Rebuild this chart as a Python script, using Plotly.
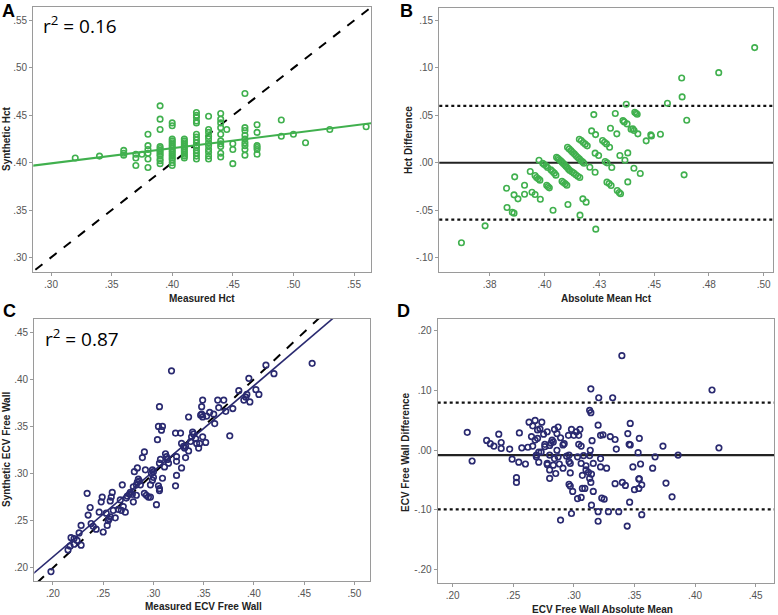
import plotly.graph_objects as go

W, H = 778, 615
GREEN = "rgb(64,176,78)"
NAVY = "rgb(42,42,112)"

# ---------------- Panel A: Measured vs Synthetic Hct ----------------
a_measured = [0.32, 0.34,
              0.36, 0.36, 0.36,
              0.37, 0.37, 0.37, 0.375,
              0.38, 0.38, 0.38, 0.38, 0.38, 0.38,
              0.39, 0.39, 0.39, 0.39, 0.39, 0.39, 0.39, 0.39, 0.39, 0.39, 0.39, 0.39,
              0.40, 0.40, 0.40, 0.40, 0.40, 0.40, 0.40, 0.40, 0.40, 0.40, 0.40, 0.40, 0.40, 0.40, 0.40, 0.40,
              0.41, 0.41, 0.41, 0.41, 0.41, 0.41, 0.41, 0.41, 0.41, 0.41, 0.41,
              0.42, 0.42, 0.42, 0.42, 0.42, 0.42, 0.42, 0.42, 0.42, 0.42, 0.42, 0.42, 0.42, 0.42, 0.42,
              0.43, 0.43, 0.43, 0.43, 0.43, 0.43, 0.43, 0.43, 0.43, 0.43, 0.43,
              0.44, 0.44, 0.44, 0.44, 0.44, 0.44, 0.44, 0.44, 0.44, 0.44, 0.445,
              0.45, 0.45, 0.45,
              0.46, 0.46, 0.46, 0.46, 0.46, 0.46, 0.46, 0.46, 0.46,
              0.47, 0.47, 0.47, 0.47, 0.47, 0.47,
              0.49, 0.49, 0.50, 0.51, 0.53, 0.56]
a_synthetic = [0.405, 0.407,
               0.413, 0.410, 0.408,
               0.409, 0.405, 0.397, 0.409,
               0.430, 0.418, 0.414, 0.410, 0.404, 0.395,
               0.460, 0.446, 0.435, 0.417, 0.415, 0.413, 0.411, 0.409, 0.407, 0.404, 0.402, 0.399,
               0.442, 0.439, 0.425, 0.423, 0.421, 0.419, 0.417, 0.415, 0.413, 0.411, 0.409, 0.407, 0.405, 0.403, 0.400, 0.397,
               0.425, 0.423, 0.421, 0.419, 0.417, 0.415, 0.413, 0.411, 0.409, 0.407, 0.405,
               0.453, 0.450, 0.448, 0.444, 0.442, 0.430, 0.427, 0.424, 0.421, 0.418, 0.416, 0.413, 0.410, 0.407, 0.404,
               0.449, 0.435, 0.432, 0.428, 0.425, 0.421, 0.418, 0.414, 0.411, 0.407, 0.404,
               0.452, 0.446, 0.442, 0.437, 0.430, 0.423, 0.420, 0.417, 0.410, 0.406, 0.435,
               0.420, 0.414, 0.399,
               0.473, 0.437, 0.434, 0.429, 0.425, 0.421, 0.418, 0.414, 0.408,
               0.440, 0.432, 0.418, 0.416, 0.414, 0.409,
               0.445, 0.428, 0.430, 0.421, 0.435, 0.438]
a_fit_slope, a_fit_intercept = 0.160, 0.3513
a_r2_label = "r<sup>2</sup> = 0.16"

# ---------------- Panel B: Bland-Altman Hct ----------------
b_mean = [0.3621, 0.3729, 0.3827, 0.3829, 0.3853, 0.3861, 0.3864, 0.3861, 0.3879, 0.3909,
          0.3909, 0.3935, 0.3943, 0.3957, 0.3957, 0.3964, 0.3972, 0.3979, 0.3981, 0.3975,
          0.3992, 0.3999, 0.4007, 0.4014, 0.4010, 0.4016, 0.4022, 0.4029, 0.4037, 0.4045,
          0.4052, 0.4039, 0.4055, 0.4061, 0.4067, 0.4074, 0.4080, 0.4086, 0.4092, 0.4098,
          0.4104, 0.4110, 0.4116, 0.4080, 0.4087, 0.4095, 0.4102, 0.4105, 0.4107, 0.4113,
          0.4121, 0.4128, 0.4136, 0.4143, 0.4151, 0.4159, 0.4166, 0.4125, 0.4134, 0.4143,
          0.4152, 0.4161, 0.4159, 0.4168, 0.4177, 0.4186, 0.4195, 0.4174, 0.4180, 0.4162,
          0.4175, 0.4190, 0.4207, 0.4215, 0.4225, 0.4233, 0.4231, 0.4231, 0.4234, 0.4247,
          0.4265, 0.4274, 0.4283, 0.4297, 0.4277, 0.4285, 0.4285, 0.4295, 0.4304, 0.4307,
          0.4301, 0.4323, 0.4330, 0.4332, 0.4341, 0.4347, 0.4344, 0.4358, 0.4364, 0.4373,
          0.4377, 0.4367, 0.4380, 0.4380, 0.4395, 0.4403, 0.4409, 0.4408, 0.4412, 0.4418,
          0.4423, 0.4426, 0.4437, 0.4464, 0.4485, 0.4488, 0.4529, 0.4561, 0.4626, 0.4628,
          0.4637, 0.4649, 0.4795, 0.4959]
b_diff = [-0.0845, -0.0666, -0.0269, -0.0473, -0.0522, -0.0532, -0.0149, -0.0339, -0.0381, -0.0237,
          -0.0332, -0.0093, -0.0311, -0.0335, -0.0135, -0.0156, -0.0170, -0.0184, -0.0385, 0.0027,
          -0.0005, -0.0019, -0.0033, -0.0051, -0.0237, -0.0251, -0.0265, -0.0075, -0.0093, -0.0110,
          -0.0131, -0.0501, 0.0058, 0.0048, 0.0034, 0.0020, 0.0006, -0.0008, -0.0022, -0.0037,
          -0.0051, -0.0068, -0.0082, -0.0195, -0.0209, -0.0223, -0.0237, 0.0164, -0.0441, 0.0146,
          0.0129, 0.0111, 0.0094, 0.0076, 0.0058, 0.0041, 0.0023, -0.0096, -0.0110, -0.0128,
          -0.0142, -0.0156, 0.0248, 0.0234, 0.0213, 0.0196, 0.0178, 0.0009, -0.0005, -0.0553,
          -0.0381, -0.0416, -0.0047, 0.0336, 0.0508, 0.0297, 0.0101, -0.0100, -0.0701, 0.0076,
          0.0234, 0.0217, 0.0199, 0.0164, 0.0013, -0.0001, -0.0205, -0.0219, -0.0241, -0.0051,
          0.0364, 0.0519, 0.0305, -0.0293, -0.0314, -0.0328, 0.0076, 0.0445, 0.0431, 0.0617,
          0.0410, 0.0027, 0.0104, -0.0202, 0.0354, 0.0357, 0.0340, -0.0058, 0.0533, 0.0522,
          0.0512, 0.0305, -0.0114, 0.0231, 0.0294, 0.0283, 0.0301, 0.0628, 0.0895, 0.0695,
          -0.0128, 0.0449, 0.0951, 0.1215]
b_bias, b_upper, b_lower = 0.000, 0.060, -0.060

# ---------------- Panel C: Measured vs Synthetic ECV ----------------
c_measured = [0.198, 0.215, 0.217, 0.218, 0.221, 0.221, 0.224, 0.226, 0.228, 0.228,
              0.234, 0.235, 0.237, 0.238, 0.240, 0.243, 0.246, 0.248, 0.249, 0.250,
              0.253, 0.254, 0.255, 0.256, 0.257, 0.257, 0.258, 0.259, 0.260, 0.262,
              0.265, 0.267, 0.268, 0.269, 0.270, 0.272, 0.273, 0.274, 0.276, 0.277,
              0.280, 0.279, 0.280, 0.281, 0.283, 0.284, 0.285, 0.283, 0.284, 0.286,
              0.287, 0.289, 0.291, 0.291, 0.292, 0.293, 0.295, 0.297, 0.297, 0.298,
              0.299, 0.300, 0.299, 0.300, 0.304, 0.303, 0.305, 0.306, 0.306, 0.305,
              0.306, 0.306, 0.307, 0.308, 0.309, 0.309, 0.311, 0.312, 0.313, 0.315,
              0.314, 0.318, 0.322, 0.323, 0.323, 0.322, 0.323, 0.327, 0.328, 0.330,
              0.331, 0.332, 0.328, 0.332, 0.335, 0.335, 0.337, 0.338, 0.339, 0.340,
              0.342, 0.343, 0.345, 0.346, 0.347, 0.348, 0.349, 0.348, 0.349, 0.349,
              0.352, 0.353, 0.356, 0.360, 0.361, 0.364, 0.365, 0.370, 0.372, 0.376,
              0.379, 0.385, 0.390, 0.392, 0.393, 0.395, 0.396, 0.402, 0.405, 0.412,
              0.420, 0.458]
c_synthetic = [0.196, 0.219, 0.223, 0.232, 0.231, 0.225, 0.229, 0.237, 0.224, 0.245,
               0.279, 0.256, 0.264, 0.247, 0.244, 0.241, 0.259, 0.270, 0.275, 0.238,
               0.258, 0.245, 0.250, 0.252, 0.254, 0.271, 0.275, 0.280, 0.261, 0.253,
               0.262, 0.272, 0.261, 0.288, 0.265, 0.259, 0.274, 0.276, 0.278, 0.280,
               0.286, 0.278, 0.270, 0.302, 0.288, 0.291, 0.294, 0.277, 0.306, 0.292,
               0.288, 0.317, 0.323, 0.279, 0.304, 0.277, 0.275, 0.275, 0.288, 0.300,
               0.304, 0.302, 0.293, 0.296, 0.336, 0.267, 0.287, 0.284, 0.282, 0.350,
               0.371, 0.311, 0.315, 0.346, 0.350, 0.295, 0.307, 0.321, 0.318, 0.311,
               0.315, 0.409, 0.343, 0.318, 0.298, 0.287, 0.313, 0.343, 0.332, 0.329,
               0.327, 0.329, 0.306, 0.317, 0.360, 0.324, 0.334, 0.339, 0.344, 0.342,
               0.337, 0.332, 0.327, 0.332, 0.362, 0.363, 0.360, 0.371, 0.378, 0.339,
               0.333, 0.361, 0.365, 0.363, 0.353, 0.378, 0.370, 0.378, 0.366, 0.340,
               0.369, 0.388, 0.378, 0.381, 0.384, 0.401, 0.376, 0.389, 0.384, 0.415,
               0.406, 0.417]
c_fit_slope, c_fit_intercept = 0.908, 0.030
c_r2_label = "r<sup>2</sup> = 0.87"

# ---------------- Panel D: Bland-Altman ECV ----------------
d_mean = [0.212, 0.216, 0.228, 0.231, 0.234, 0.238, 0.240, 0.240, 0.247, 0.249,
          0.2526, 0.2526, 0.255, 0.2545, 0.257, 0.260, 0.263, 0.262, 0.265, 0.266,
          0.266, 0.268, 0.268, 0.269, 0.269, 0.270, 0.270, 0.272, 0.271, 0.271,
          0.2735, 0.273, 0.275, 0.276, 0.276, 0.278, 0.278, 0.278, 0.280, 0.280,
          0.280, 0.280, 0.281, 0.282, 0.283, 0.283, 0.284, 0.284, 0.286, 0.287,
          0.285, 0.286, 0.287, 0.288, 0.289, 0.289, 0.291, 0.291, 0.292, 0.294,
          0.2955, 0.296, 0.296, 0.297, 0.296, 0.297, 0.298, 0.297, 0.298, 0.299,
          0.300, 0.302, 0.303, 0.303, 0.304, 0.304, 0.306, 0.305, 0.306, 0.306,
          0.307, 0.307, 0.308, 0.309, 0.310, 0.310, 0.312, 0.313, 0.314, 0.313,
          0.314, 0.313, 0.3135, 0.314, 0.3145, 0.3145, 0.315, 0.316, 0.316, 0.320,
          0.3205, 0.320, 0.320, 0.322, 0.324, 0.322, 0.322, 0.323, 0.325, 0.327,
          0.3285, 0.330, 0.332, 0.334, 0.335, 0.334, 0.337, 0.3396, 0.340, 0.3425,
          0.344, 0.3445, 0.3456, 0.3465, 0.3465, 0.346, 0.3487, 0.350, 0.353, 0.354,
          0.3536, 0.3536, 0.354, 0.355, 0.356, 0.356, 0.365, 0.367, 0.3735, 0.376,
          0.381, 0.386, 0.414, 0.4197]
d_diff = [0.030, -0.018, 0.0165, 0.011, 0.007, 0.027, 0.013, 0.003, 0.002, -0.015,
          -0.046, -0.054, 0.029, -0.020, 0.004, -0.023, 0.047, 0.005, 0.023, 0.007,
          0.041, 0.050, 0.017, -0.008, -0.011, 0.034, 0.020, 0.036, -0.003, -0.020,
          0.047, -0.003, 0.027, 0.010, 0.006, -0.022, -0.024, 0.031, -0.008, 0.008,
          -0.033, -0.047, 0.012, 0.017, 0.014, -0.025, -0.014, 0.035, 0.028, 0.039,
          -0.039, 0.000, -0.011, -0.023, -0.117, 0.021, 0.009, -0.030, 0.011, -0.010,
          0.025, -0.008, -0.019, -0.022, -0.057, -0.060, 0.035, -0.038, -0.106, -0.069,
          0.025, 0.031, -0.011, -0.081, 0.025, 0.010, 0.007, 0.035, -0.022, -0.079,
          -0.042, -0.064, -0.009, -0.064, -0.026, -0.033, -0.037, -0.047, -0.054, 0.067,
          0.063, -0.009, 0.000, 0.103, -0.040, -0.092, 0.016, -0.069, -0.022, 0.042,
          0.088, -0.103, -0.119, 0.025, 0.026, -0.014, -0.028, -0.080, -0.082, -0.030,
          -0.103, 0.023, 0.088, 0.018, 0.002, -0.056, -0.103, 0.1586, -0.054, -0.059,
          -0.127, 0.028, 0.010, 0.009, 0.045, -0.087, -0.028, -0.066, -0.004, 0.020,
          -0.064, -0.048, -0.048, -0.023, -0.058, -0.108, -0.030, -0.011, 0.007, -0.055,
          -0.078, -0.008, 0.101, 0.004]
d_bias, d_upper, d_lower = -0.008, 0.080, -0.099

# ---------------- Axis ticks ----------------
a_ticks = [0.30, 0.35, 0.40, 0.45, 0.50, 0.55]
a_ticktext = [".30", ".35", ".40", ".45", ".50", ".55"]
b_xticks = [0.375, 0.400, 0.425, 0.450, 0.475, 0.500]
b_xticktext = [".38", ".40", ".43", ".45", ".48", ".50"]
b_yticks = [-0.10, -0.05, 0.00, 0.05, 0.10, 0.15]
b_yticktext = ["-.10", "-.05", ".00", ".05", ".10", ".15"]
c_xticks = [0.20, 0.25, 0.30, 0.35, 0.40, 0.45, 0.50]
c_xticktext = [".20", ".25", ".30", ".35", ".40", ".45", ".50"]
c_yticks = [0.20, 0.25, 0.30, 0.35, 0.40, 0.45]
c_yticktext = [".20", ".25", ".30", ".35", ".40", ".45"]
d_xticks = [0.20, 0.25, 0.30, 0.35, 0.40, 0.45]
d_xticktext = [".20", ".25", ".30", ".35", ".40", ".45"]
d_yticks = [-0.20, -0.10, 0.00, 0.10, 0.20]
d_yticktext = ["-.20", "-.10", ".00", ".10", ".20"]

# axis ranges
a_xrange, a_yrange = [0.2854, 0.564], [0.285, 0.564]
b_xrange, b_yrange = [0.352, 0.5044], [-0.115, 0.163]
c_xrange, c_yrange = [0.1814, 0.5156], [0.186, 0.464]
d_xrange, d_yrange = [0.1876, 0.4654], [-0.223, 0.220]


def px(x):
    return x / W


def py(y):
    return 1 - y / H


fig = go.Figure()

marker_green = dict(symbol="circle-open", size=5.5, color=GREEN, line=dict(width=1.6, color=GREEN))
marker_navy = dict(symbol="circle-open", size=5.5, color=NAVY, line=dict(width=1.7, color=NAVY))

# Panel A
ax0, ax1 = a_xrange[0] - 0.01, a_xrange[1] + 0.01
fig.add_trace(go.Scatter(x=[ax0, ax1], y=[ax0, ax1],
                         mode="lines", line=dict(color="black", width=2, dash="dash"),
                         xaxis="x", yaxis="y", hoverinfo="skip"))
fig.add_trace(go.Scatter(x=a_measured, y=a_synthetic, mode="markers", marker=marker_green,
                         xaxis="x", yaxis="y"))
fig.add_trace(go.Scatter(x=[ax0, ax1], y=[a_fit_intercept + a_fit_slope * ax0, a_fit_intercept + a_fit_slope * ax1],
                         mode="lines", line=dict(color=GREEN, width=2), xaxis="x", yaxis="y", hoverinfo="skip"))

# Panel B
fig.add_trace(go.Scatter(x=b_mean, y=b_diff, mode="markers", marker=marker_green, xaxis="x2", yaxis="y2"))

# Panel C
cx0, cx1 = c_xrange[0] - 0.01, c_xrange[1] + 0.01
fig.add_trace(go.Scatter(x=[cx0, cx1], y=[cx0, cx1], mode="lines",
                         line=dict(color="black", width=2, dash="dash"), xaxis="x3", yaxis="y3", hoverinfo="skip"))
fig.add_trace(go.Scatter(x=[cx0, cx1], y=[c_fit_intercept + c_fit_slope * cx0, c_fit_intercept + c_fit_slope * cx1],
                         mode="lines", line=dict(color=NAVY, width=1.6), xaxis="x3", yaxis="y3", hoverinfo="skip"))
fig.add_trace(go.Scatter(x=c_measured, y=c_synthetic, mode="markers", marker=marker_navy, xaxis="x3", yaxis="y3"))

# Panel D
fig.add_trace(go.Scatter(x=d_mean, y=d_diff, mode="markers", marker=marker_navy, xaxis="x4", yaxis="y4"))

# Horizontal reference lines (bias and limits)
for xa, ya, bias, up, lo in [("x2", "y2", b_bias, b_upper, b_lower), ("x4", "y4", d_bias, d_upper, d_lower)]:
    fig.add_shape(type="line", xref=f"{xa} domain", yref=ya, x0=0, x1=1, y0=bias, y1=bias,
                  line=dict(color="#222222", width=2.2), layer="below")
    for v in (up, lo):
        fig.add_shape(type="line", xref=f"{xa} domain", yref=ya, x0=0, x1=1, y0=v, y1=v,
                      line=dict(color="#111111", width=2.2, dash="3px,3px"), layer="below")

tickfont = dict(family="Liberation Sans, Arial, sans-serif", size=10, color="#555555")


def axis(domain, rng, tv, tt, anchor):
    return dict(domain=domain, range=rng, tickvals=tv, ticktext=tt, anchor=anchor,
                showline=True, mirror=True, linecolor="#9a9a9a", linewidth=1.2,
                showgrid=False, zeroline=False, ticks="outside", ticklen=3, tickcolor="#9a9a9a",
                tickfont=tickfont, fixedrange=True)


fig.update_layout(
    width=W, height=H, margin=dict(l=0, r=0, t=0, b=0),
    paper_bgcolor="white", plot_bgcolor="white", showlegend=False,
    xaxis=axis([px(33.3), px(371)], a_xrange, a_ticks, a_ticktext, "y"),
    yaxis=axis([py(271.7), py(7.3)], a_yrange, a_ticks, a_ticktext, "x"),
    xaxis2=axis([px(439.3), px(773.3)], b_xrange, b_xticks, b_xticktext, "y2"),
    yaxis2=axis([py(271.7), py(8.3)], b_yrange, b_yticks, b_yticktext, "x2"),
    xaxis3=axis([px(34.3), px(370)], c_xrange, c_xticks, c_xticktext, "y3"),
    yaxis3=axis([py(581), py(319)], c_yrange, c_yticks, c_yticktext, "x3"),
    xaxis4=axis([px(437.7), px(774.3)], d_xrange, d_xticks, d_xticktext, "y4"),
    yaxis4=axis([py(583.3), py(319)], d_yrange, d_yticks, d_yticktext, "x4"),
)

letter_font = dict(family="Liberation Sans, Arial, sans-serif", size=18, color="black")
title_font = dict(family="Liberation Sans, Arial, sans-serif", size=10, color="#222222")
r2_font = dict(family="Open Sans, Liberation Sans, sans-serif", size=19, color="black")

# (text, x px, y px, font, angle, xanchor, yanchor)
annotations = [
    ("<b>A</b>", 1, 0, letter_font, 0, "left", "top"),
    ("<b>B</b>", 399, 0, letter_font, 0, "left", "top"),
    ("<b>C</b>", 2, 311, letter_font, 0, "left", "middle"),
    ("<b>D</b>", 396, 311, letter_font, 0, "left", "middle"),
    (a_r2_label, 42, 25, r2_font, 0, "left", "middle"),
    (c_r2_label, 44, 338, r2_font, 0, "left", "middle"),
    ("<b>Synthetic Hct</b>", 6, 139, title_font, -90, "center", "middle"),
    ("<b>Measured Hct</b>", 202, 298, title_font, 0, "center", "middle"),
    ("<b>Hct Difference</b>", 408, 140, title_font, -90, "center", "middle"),
    ("<b>Absolute Mean Hct</b>", 606, 298, title_font, 0, "center", "middle"),
    ("<b>Synthetic ECV Free Wall</b>", 6, 450, title_font, -90, "center", "middle"),
    ("<b>Measured ECV Free Wall</b>", 203, 606, title_font, 0, "center", "middle"),
    ("<b>ECV Free Wall Difference</b>", 405, 452, title_font, -90, "center", "middle"),
    ("<b>ECV Free Wall Absolute Mean</b>", 602, 609, title_font, 0, "center", "middle"),
]
for text, x, y, font, angle, xanchor, yanchor in annotations:
    fig.add_annotation(text=text, x=px(x), y=py(y), xref="paper", yref="paper",
                       xanchor=xanchor, yanchor=yanchor, showarrow=False, font=font,
                       textangle=angle, borderpad=0)

# remove the browser's default 8px body margin so the figure sits at the window origin
fig.write_html("out.html", config={"displayModeBar": False},
               post_script="document.body.style.margin='0';")
